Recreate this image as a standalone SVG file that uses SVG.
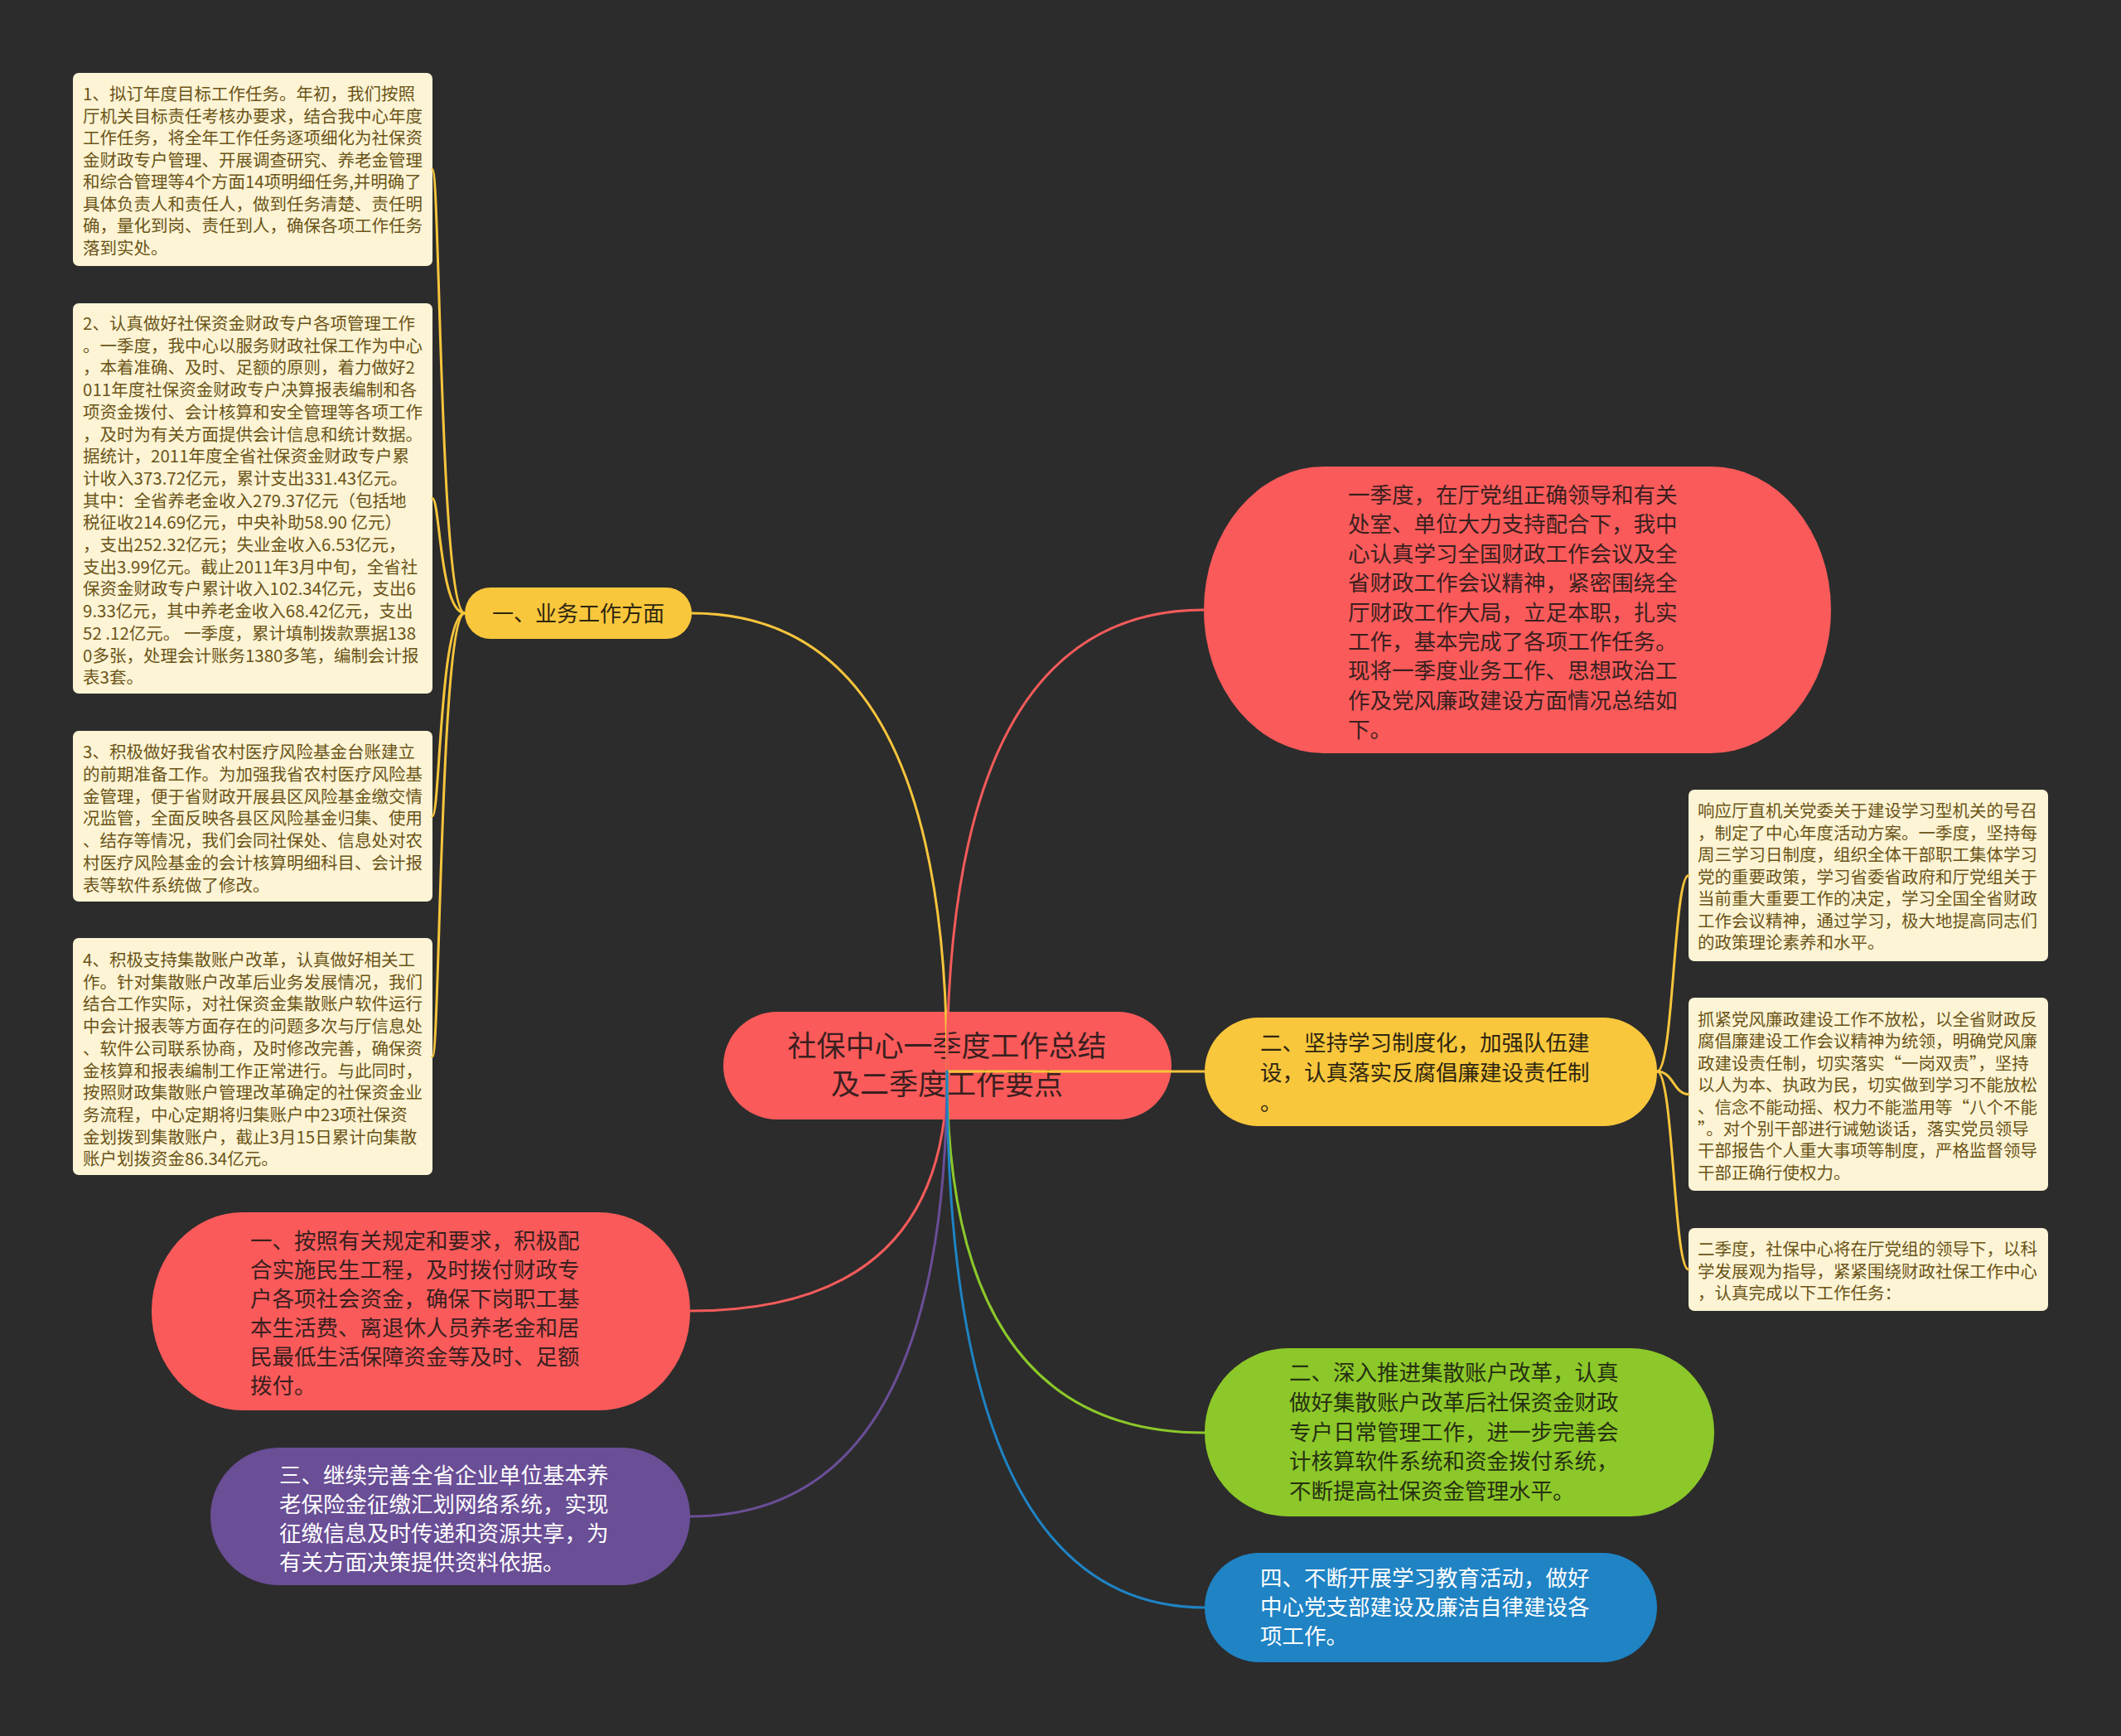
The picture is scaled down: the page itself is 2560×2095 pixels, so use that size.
<svg xmlns="http://www.w3.org/2000/svg" width="2560" height="2095" viewBox="0 0 2560 2095">
<style>
.t{font-family:"Noto Sans CJK SC","Noto Sans",sans-serif}
.box{fill:#fdf4d5}
.bt{font-size:20.5px;fill:#6b5418}
.big{font-size:26.5px}
.dark{fill:#3a1f1f}
.ydark{fill:#2e2510}
.gdark{fill:#263010}
.white{fill:#ffffff}
.c{fill:none;stroke-width:3;stroke-linecap:round}
.cy{stroke:#f7c53c}
.cr{stroke:#f45b5b}
.cp{stroke:#6a4e96}
.cg{stroke:#8cc82a}
.cb{stroke:#1f83c4}
</style>
<rect x="0" y="0" width="2560" height="2095" fill="#2c2c2c"/>

<g id="center">
<rect x="873" y="1221" width="541" height="130" rx="65" ry="65" fill="#fb5a5a"/>
<text class="t" font-size="35" fill="#3a1f1f" text-anchor="middle"><tspan x="1143" y="1275">社保中心一季度工作总结</tspan><tspan x="1143" y="1321">及二季度工作要点</tspan></text>
</g>

<g id="intro">
<rect x="1453" y="563" width="757" height="346" rx="145" ry="173" fill="#fb5a5a"/>
<text class="t big dark"><tspan x="1627" y="607">一季度，在厅党组正确领导和有关</tspan><tspan x="1627" y="642.4">处室、单位大力支持配合下，我中</tspan><tspan x="1627" y="677.8">心认真学习全国财政工作会议及全</tspan><tspan x="1627" y="713.2">省财政工作会议精神，紧密围绕全</tspan><tspan x="1627" y="748.6">厅财政工作大局，立足本职，扎实</tspan><tspan x="1627" y="784">工作，基本完成了各项工作任务。</tspan><tspan x="1627" y="819.4">现将一季度业务工作、思想政治工</tspan><tspan x="1627" y="854.8">作及党风廉政建设方面情况总结如</tspan><tspan x="1627" y="890.2">下。</tspan></text>
</g>

<g id="business">
<rect x="561" y="709" width="274" height="62" rx="31" ry="31" fill="#f9c73c"/>
<text class="t ydark" font-size="26" text-anchor="middle" x="698" y="750">一、业务工作方面</text>
</g>

<g id="b1">
<rect class="box" x="88" y="88" width="434" height="233" rx="7"/>
<text class="t bt"><tspan x="100" y="121">1、拟订年度目标工作任务。年初，我们按照</tspan><tspan x="100" y="147.5">厅机关目标责任考核办要求，结合我中心年度</tspan><tspan x="100" y="174">工作任务，将全年工作任务逐项细化为社保资</tspan><tspan x="100" y="200.5">金财政专户管理、开展调查研究、养老金管理</tspan><tspan x="100" y="227">和综合管理等4个方面14项明细任务,并明确了</tspan><tspan x="100" y="253.5">具体负责人和责任人，做到任务清楚、责任明</tspan><tspan x="100" y="280">确，量化到岗、责任到人，确保各项工作任务</tspan><tspan x="100" y="306.5">落到实处。</tspan></text>
</g>

<g id="b2">
<rect class="box" x="88" y="366" width="434" height="471" rx="7"/>
<text class="t bt"><tspan x="100" y="398">2、认真做好社保资金财政专户各项管理工作</tspan><tspan x="100" y="424.7">。一季度，我中心以服务财政社保工作为中心</tspan><tspan x="100" y="451.4">，本着准确、及时、足额的原则，着力做好2</tspan><tspan x="100" y="478.1">011年度社保资金财政专户决算报表编制和各</tspan><tspan x="100" y="504.8">项资金拨付、会计核算和安全管理等各项工作</tspan><tspan x="100" y="531.5">，及时为有关方面提供会计信息和统计数据。</tspan><tspan x="100" y="558.2">据统计，2011年度全省社保资金财政专户累</tspan><tspan x="100" y="584.9">计收入373.72亿元，累计支出331.43亿元。</tspan><tspan x="100" y="611.6">其中：全省养老金收入279.37亿元（包括地</tspan><tspan x="100" y="638.3">税征收214.69亿元，中央补助58.90 亿元）</tspan><tspan x="100" y="665">，支出252.32亿元；失业金收入6.53亿元，</tspan><tspan x="100" y="691.7">支出3.99亿元。截止2011年3月中旬，全省社</tspan><tspan x="100" y="718.4">保资金财政专户累计收入102.34亿元，支出6</tspan><tspan x="100" y="745.1">9.33亿元，其中养老金收入68.42亿元，支出</tspan><tspan x="100" y="771.8">52 .12亿元。 一季度，累计填制拨款票据138</tspan><tspan x="100" y="798.5">0多张，处理会计账务1380多笔，编制会计报</tspan><tspan x="100" y="825.2">表3套。</tspan></text>
</g>

<g id="b3">
<rect class="box" x="88" y="882" width="434" height="206" rx="7"/>
<text class="t bt"><tspan x="100" y="915">3、积极做好我省农村医疗风险基金台账建立</tspan><tspan x="100" y="941.8">的前期准备工作。为加强我省农村医疗风险基</tspan><tspan x="100" y="968.6">金管理，便于省财政开展县区风险基金缴交情</tspan><tspan x="100" y="995.4">况监管，全面反映各县区风险基金归集、使用</tspan><tspan x="100" y="1022.2">、结存等情况，我们会同社保处、信息处对农</tspan><tspan x="100" y="1049">村医疗风险基金的会计核算明细科目、会计报</tspan><tspan x="100" y="1075.8">表等软件系统做了修改。</tspan></text>
</g>

<g id="b4">
<rect class="box" x="88" y="1132" width="434" height="286" rx="7"/>
<text class="t bt"><tspan x="100" y="1166">4、积极支持集散账户改革，认真做好相关工</tspan><tspan x="100" y="1192.7">作。针对集散账户改革后业务发展情况，我们</tspan><tspan x="100" y="1219.4">结合工作实际，对社保资金集散账户软件运行</tspan><tspan x="100" y="1246.1">中会计报表等方面存在的问题多次与厅信息处</tspan><tspan x="100" y="1272.8">、软件公司联系协商，及时修改完善，确保资</tspan><tspan x="100" y="1299.5">金核算和报表编制工作正常进行。与此同时，</tspan><tspan x="100" y="1326.2">按照财政集散账户管理改革确定的社保资金业</tspan><tspan x="100" y="1352.9">务流程，中心定期将归集账户中23项社保资</tspan><tspan x="100" y="1379.6">金划拨到集散账户，截止3月15日累计向集散</tspan><tspan x="100" y="1406.3">账户划拨资金86.34亿元。</tspan></text>
</g>

<g id="study">
<rect x="1454" y="1228" width="546" height="131" rx="65" ry="65" fill="#f9c73c"/>
<text class="t big ydark"><tspan x="1521" y="1268">二、坚持学习制度化，加强队伍建</tspan><tspan x="1521" y="1304">设，认真落实反腐倡廉建设责任制</tspan><tspan x="1521" y="1340">。</tspan></text>
</g>

<g id="r1">
<rect class="box" x="2038" y="953" width="434" height="207" rx="7"/>
<text class="t bt"><tspan x="2049" y="986">响应厅直机关党委关于建设学习型机关的号召</tspan><tspan x="2049" y="1012.5">，制定了中心年度活动方案。一季度，坚持每</tspan><tspan x="2049" y="1039">周三学习日制度，组织全体干部职工集体学习</tspan><tspan x="2049" y="1065.5">党的重要政策，学习省委省政府和厅党组关于</tspan><tspan x="2049" y="1092">当前重大重要工作的决定，学习全国全省财政</tspan><tspan x="2049" y="1118.5">工作会议精神，通过学习，极大地提高同志们</tspan><tspan x="2049" y="1145">的政策理论素养和水平。</tspan></text>
</g>

<g id="r2">
<rect class="box" x="2038" y="1204" width="434" height="233" rx="7"/>
<text class="t bt"><tspan x="2049" y="1238">抓紧党风廉政建设工作不放松，以全省财政反</tspan><tspan x="2049" y="1264.4">腐倡廉建设工作会议精神为统领，明确党风廉</tspan><tspan x="2049" y="1290.8">政建设责任制，切实落实“一岗双责”，坚持</tspan><tspan x="2049" y="1317.2">以人为本、执政为民，切实做到学习不能放松</tspan><tspan x="2049" y="1343.6">、信念不能动摇、权力不能滥用等“八个不能</tspan><tspan x="2049" y="1370">”。对个别干部进行诫勉谈话，落实党员领导</tspan><tspan x="2049" y="1396.4">干部报告个人重大事项等制度，严格监督领导</tspan><tspan x="2049" y="1422.8">干部正确行使权力。</tspan></text>
</g>

<g id="r3">
<rect class="box" x="2038" y="1482" width="434" height="100" rx="7"/>
<text class="t bt"><tspan x="2049" y="1515">二季度，社保中心将在厅党组的领导下，以科</tspan><tspan x="2049" y="1541.5">学发展观为指导，紧紧围绕财政社保工作中心</tspan><tspan x="2049" y="1568">，认真完成以下工作任务：</tspan></text>
</g>

<g id="n1">
<rect x="183" y="1463" width="650" height="239" rx="110" ry="119" fill="#fb5a5a"/>
<text class="t big dark"><tspan x="302" y="1507">一、按照有关规定和要求，积极配</tspan><tspan x="302" y="1542">合实施民生工程，及时拨付财政专</tspan><tspan x="302" y="1577">户各项社会资金，确保下岗职工基</tspan><tspan x="302" y="1612">本生活费、离退休人员养老金和居</tspan><tspan x="302" y="1647">民最低生活保障资金等及时、足额</tspan><tspan x="302" y="1682">拨付。</tspan></text>
</g>

<g id="n3">
<rect x="254" y="1747" width="579" height="166" rx="83" ry="83" fill="#6a4e96"/>
<text class="t big white"><tspan x="337" y="1790">三、继续完善全省企业单位基本养</tspan><tspan x="337" y="1825">老保险金征缴汇划网络系统，实现</tspan><tspan x="337" y="1860">征缴信息及时传递和资源共享，为</tspan><tspan x="337" y="1895">有关方面决策提供资料依据。</tspan></text>
</g>

<g id="n2">
<rect x="1454" y="1627" width="615" height="203" rx="101" ry="101" fill="#8cc82a"/>
<text class="t big gdark"><tspan x="1556" y="1666">二、深入推进集散账户改革，认真</tspan><tspan x="1556" y="1701.8">做好集散账户改革后社保资金财政</tspan><tspan x="1556" y="1737.6">专户日常管理工作，进一步完善会</tspan><tspan x="1556" y="1773.4">计核算软件系统和资金拨付系统，</tspan><tspan x="1556" y="1809.2">不断提高社保资金管理水平。</tspan></text>
</g>

<g id="n4">
<rect x="1454" y="1874" width="546" height="132" rx="66" ry="66" fill="#1f83c4"/>
<text class="t big white"><tspan x="1521" y="1914">四、不断开展学习教育活动，做好</tspan><tspan x="1521" y="1949">中心党支部建设及廉洁自律建设各</tspan><tspan x="1521" y="1984">项工作。</tspan></text>
</g>

<g id="connectors">
<path class="c cy" d="M1143 1293 Q1143 740 835 740"/>
<path class="c cr" d="M1143 1293 Q1143 736 1453 736"/>
<path class="c cy" d="M1143 1293 L1454 1293"/>
<path class="c cr" d="M1143 1293 Q1143 1582 833 1582"/>
<path class="c cp" d="M1143 1293 Q1143 1830 833 1830"/>
<path class="c cg" d="M1143 1293 Q1143 1729 1454 1729"/>
<path class="c cb" d="M1143 1293 Q1143 1940 1454 1940"/>
<path class="c cy" d="M561 740 C531 740 531 204.5 522 204.5"/>
<path class="c cy" d="M561 740 C531 740 531 601.5 522 601.5"/>
<path class="c cy" d="M561 740 C531 740 531 985 522 985"/>
<path class="c cy" d="M561 740 C531 740 531 1275 522 1275"/>
<path class="c cy" d="M2000 1293 C2020 1293 2020 1056.5 2038 1056.5"/>
<path class="c cy" d="M2000 1293 C2020 1293 2020 1320.5 2038 1320.5"/>
<path class="c cy" d="M2000 1293 C2020 1293 2020 1532 2038 1532"/>
</g>
</svg>
